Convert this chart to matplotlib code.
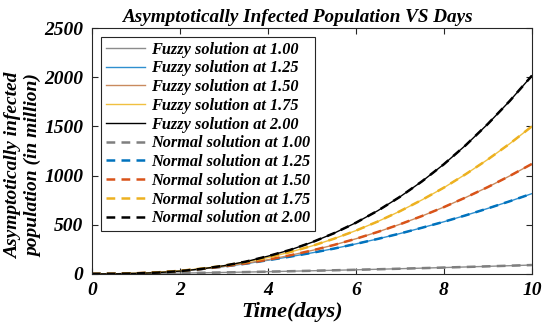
import matplotlib
matplotlib.use("Agg")
import matplotlib.pyplot as plt

t = [0, 0.5, 1, 1.5, 2, 2.5, 3, 3.5, 4, 4.5, 5, 5.5, 6, 6.5, 7, 7.5, 8, 8.5, 9, 9.5, 10]

y100 = [0, 1.0, 2.9, 5.2, 8.1, 11.3, 14.8, 18.7, 22.8, 27.2, 31.9, 36.8, 41.9, 47.2, 52.8, 58.5, 64.5, 70.6, 76.9, 83.5, 90]
y125 = [0, 1.2, 5.5, 14, 29, 50, 75, 104, 139, 175, 214, 257, 305, 356, 410, 469, 530, 596, 666, 739, 816]
y150 = [0, 1.4, 6.5, 16.1, 30.6, 50.5, 75.8, 107, 144, 188, 238, 294, 357, 427, 504, 588, 679, 778, 883, 997, 1118]
y175 = [0, 1.1, 6.0, 15.8, 31.5, 53.8, 83.4, 120.8, 166, 221, 284, 357, 440, 533, 637, 752, 877, 1015, 1164, 1325, 1500]
y200 = [0, 0.7, 4.5, 13.2, 28.3, 51.1, 83, 124.7, 180, 243, 321, 413, 520, 643, 783, 940, 1115, 1310, 1525, 1760, 2015]

orders = ["1.00", "1.25", "1.50", "1.75", "2.00"]
series = [y100, y125, y150, y175, y200]

fuzzy_colors = ["#8c8c8c", "#2f8fcf", "#c98a5e", "#f0c040", "#000000"]
normal_colors = ["#7f7f7f", "#0072BD", "#D95319", "#EDB120", "#000000"]

plt.rcParams['font.family'] = ['Liberation Serif', 'DejaVu Serif']
font = dict(weight='bold', style='italic')

fig = plt.figure(figsize=(5.5, 3.3), dpi=100)
ax = fig.add_axes([0.167, 0.170, 0.800, 0.745])

for o, y, c in zip(orders, series, fuzzy_colors):
    ax.plot(t, y, color=c, lw=1.0, label=f"Fuzzy solution at {o}")
for o, y, c in zip(orders, series, normal_colors):
    ax.plot(t, y, color=c, lw=1.8, ls=(0, (3.5, 2.5)), label=f"Normal solution at {o}")

ax.set_xlim(0, 10)
ax.set_ylim(0, 2500)
ax.set_xticks([0, 2, 4, 6, 8, 10])
ax.set_yticks([0, 500, 1000, 1500, 2000, 2500])
ax.tick_params(direction='in', top=True, right=True, length=4, width=0.8, labelsize=14, colors='#262626', pad=6)
for lab in ax.get_xticklabels() + ax.get_yticklabels():
    lab.set_fontweight('bold')
    lab.set_fontstyle('italic')
    lab.set_color('black')
for s in ax.spines.values():
    s.set_color('#262626')
    s.set_linewidth(0.8)

ax.set_title("Asymptotically Infected Population VS Days", fontsize=13.8, x=0.47, pad=4, **font)
ax.set_xlabel("Time(days)", fontsize=16, **font)
ax.xaxis.set_label_coords(0.455, -0.113)
ax.set_ylabel("Asymptotically infected\npopulation (in million)", fontsize=14, linespacing=1.2, **font)
ax.yaxis.set_label_coords(-0.113, 0.44)

leg = ax.legend(loc='upper left', bbox_to_anchor=(0.02, 0.965), borderaxespad=0,
                prop=dict(family='Liberation Serif', weight='bold', style='italic', size=11.7),
                labelspacing=0.17, handlelength=2.4, handletextpad=0.4, borderpad=0.3,
                fancybox=False, framealpha=1)
leg.get_frame().set_edgecolor('#262626')
leg.get_frame().set_linewidth(0.8)

fig.savefig("out.png", dpi=100)
